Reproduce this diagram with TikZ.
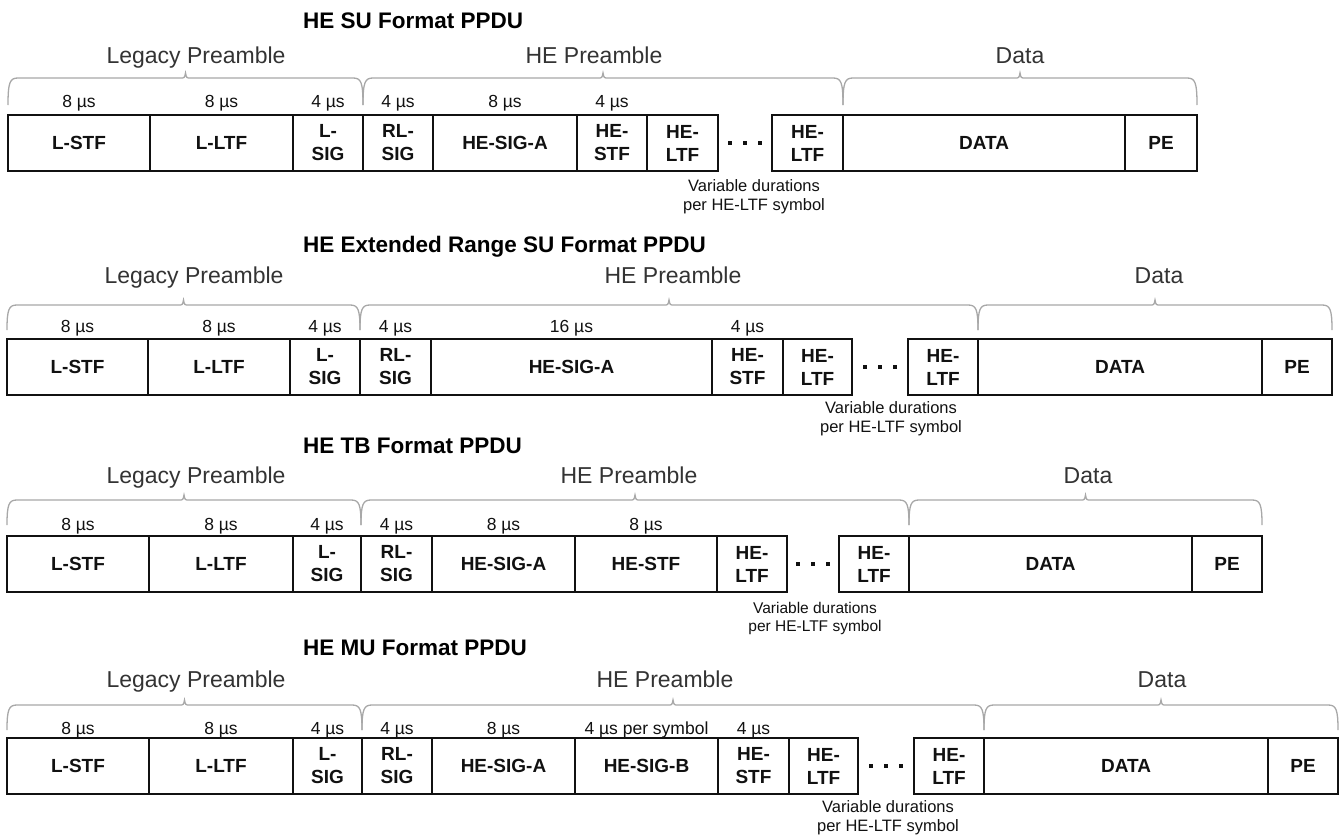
\documentclass[tikz,border=0pt]{standalone}
\usepackage{fontspec}
\setmainfont{Liberation Sans}
\usetikzlibrary{calc}
\definecolor{framecolor}{HTML}{111111}
\definecolor{bracecolor}{HTML}{A8A8A8}
\definecolor{partcolor}{HTML}{333333}

% curly brace over a group of fields: x left, x right, y of the feet, y of the bar
\newcommand{\ppdubrace}[4]{%
  \draw[brace line] (#1,#3) .. controls (#1,#4-4) and (#1+2,#4) .. (#1+10,#4)
    -- ({(#1+#2)/2-5},#4) .. controls ({(#1+#2)/2-1},#4) .. ({(#1+#2)/2},#4+5)
    .. controls ({(#1+#2)/2+1},#4) .. ({(#1+#2)/2+5},#4)
    -- (#2-10,#4) .. controls (#2-2,#4) and (#2,#4-4) .. (#2,#3);}

% the three dots between two HE-LTF fields
\newcommand{\ltfdots}[1]{%
  \foreach \dx in {-15,0,15}
    \fill[framecolor] ($(#1)+(\dx,0)$) ++(-2.3,-2.3) rectangle ++(4.6,4.6);}

\begin{document}
\begin{tikzpicture}[x=1pt, y=1pt,
    field/.style={draw=framecolor, line width=2.2pt, anchor=north west, inner sep=0pt, outer sep=0pt,
      minimum height=56pt, align=center, text=framecolor, font=\fontsize{19}{23}\selectfont\bfseries},
    dur/.style={anchor=base, inner sep=0pt, text=framecolor, font=\fontsize{17.5}{20}\selectfont},
    ppdu title/.style={anchor=base west, inner sep=0pt, text=black, font=\fontsize{22.5}{26}\selectfont\bfseries},
    part label/.style={anchor=base, inner sep=0pt, text=partcolor, font=\fontsize{23}{27}\selectfont},
    var note/.style={inner sep=0pt, align=center, text=framecolor, font=\fontsize{16.5}{19}\selectfont},
    brace line/.style={draw=bracecolor, line width=1.3pt}]
  \useasboundingbox (0,0) rectangle (1341,-838);

  % ---------- HE SU ----------
  \node[ppdu title] (su-title) at (303,-28) {HE SU Format PPDU};
  \foreach \nm/\xa/\xb/\txt in {lstf/8/150/L-STF, lltf/150/293/L-LTF, lsig/293/363/{L-\\SIG},
      rlsig/363/433/{RL-\\SIG}, siga/433/577/HE-SIG-A, stf/577/647/{HE-\\STF},
      ltfa/647/718/{HE-\\LTF}, ltfb/772/843/{HE-\\LTF}, data/843/1125/DATA, pe/1125/1197/PE}{
    \pgfmathsetmacro\cellw{\xb-\xa}
    \pgfmathsetmacro\textw{\xb-\xa-8}
    \node[field, minimum width=\cellw pt, text width=\textw pt] (su-\nm) at (\xa,-115) {\txt};
  }
  \foreach \nm/\t in {lstf/{8 µs}, lltf/{8 µs}, lsig/{4 µs}, rlsig/{4 µs}, siga/{8 µs}, stf/{4 µs}}
    \node[dur] (su-d\nm) at ($(su-\nm.north)+(0,8)$) {\t};
  \ppdubrace{8}{363}{-105}{-78}
  \ppdubrace{363}{843}{-105}{-78}
  \ppdubrace{843}{1197}{-105}{-78}
  \node[part label] (su-legacy) at (196,-63) {Legacy Preamble};
  \node[part label] (su-he) at (594,-63) {HE Preamble};
  \node[part label] (su-data) at (1020,-63) {Data};
  \coordinate (su-dots) at ($(su-ltfa.east)!0.5!(su-ltfb.west)$);
  \ltfdots{su-dots}
  \node[var note] (su-var) at (754,-197) {Variable durations\\per HE-LTF symbol};

  % ---------- HE extended range SU ----------
  \node[ppdu title] (er-title) at (303,-252) {HE Extended Range SU Format PPDU};
  \foreach \nm/\xa/\xb/\txt in {lstf/7/148/L-STF, lltf/148/290/L-LTF, lsig/290/360/{L-\\SIG},
      rlsig/360/431/{RL-\\SIG}, siga/431/712/HE-SIG-A, stf/712/783/{HE-\\STF},
      ltfa/783/852/{HE-\\LTF}, ltfb/908/978/{HE-\\LTF}, data/978/1262/DATA, pe/1262/1332/PE}{
    \pgfmathsetmacro\cellw{\xb-\xa}
    \pgfmathsetmacro\textw{\xb-\xa-8}
    \node[field, minimum width=\cellw pt, text width=\textw pt] (er-\nm) at (\xa,-339) {\txt};
  }
  \foreach \nm/\t in {lstf/{8 µs}, lltf/{8 µs}, lsig/{4 µs}, rlsig/{4 µs}, siga/{16 µs}, stf/{4 µs}}
    \node[dur] (er-d\nm) at ($(er-\nm.north)+(0,7)$) {\t};
  \ppdubrace{7}{360}{-330}{-305}
  \ppdubrace{360}{978}{-330}{-305}
  \ppdubrace{978}{1332}{-330}{-305}
  \node[part label] (er-legacy) at (194,-283) {Legacy Preamble};
  \node[part label] (er-he) at (673,-283) {HE Preamble};
  \node[part label] (er-data) at (1159,-283) {Data};
  \coordinate (er-dots) at ($(er-ltfa.east)!0.5!(er-ltfb.west)$);
  \ltfdots{er-dots}
  \node[var note] (er-var) at (891,-419) {Variable durations\\per HE-LTF symbol};

  % ---------- HE TB ----------
  \node[ppdu title] (tb-title) at (303,-453) {HE TB Format PPDU};
  \foreach \nm/\xa/\xb/\txt in {lstf/7/149/L-STF, lltf/149/293/L-LTF, lsig/293/361/{L-\\SIG},
      rlsig/361/432/{RL-\\SIG}, siga/432/575/HE-SIG-A, stf/575/717/HE-STF,
      ltfa/717/787/{HE-\\LTF}, ltfb/839/909/{HE-\\LTF}, data/909/1192/DATA, pe/1192/1262/PE}{
    \pgfmathsetmacro\cellw{\xb-\xa}
    \pgfmathsetmacro\textw{\xb-\xa-8}
    \node[field, minimum width=\cellw pt, text width=\textw pt] (tb-\nm) at (\xa,-536) {\txt};
  }
  \foreach \nm/\t in {lstf/{8 µs}, lltf/{8 µs}, lsig/{4 µs}, rlsig/{4 µs}, siga/{8 µs}, stf/{8 µs}}
    \node[dur] (tb-d\nm) at ($(tb-\nm.north)+(0,6)$) {\t};
  \ppdubrace{7}{361}{-525}{-500}
  \ppdubrace{361}{909}{-525}{-500}
  \ppdubrace{909}{1262}{-525}{-500}
  \node[part label] (tb-legacy) at (196,-483) {Legacy Preamble};
  \node[part label] (tb-he) at (629,-483) {HE Preamble};
  \node[part label] (tb-data) at (1088,-483) {Data};
  \coordinate (tb-dots) at ($(tb-ltfa.east)!0.5!(tb-ltfb.west)$);
  \ltfdots{tb-dots}
  \node[var note, font=\fontsize{15.5}{18}\selectfont] (tb-var) at (815,-618) {Variable durations\\per HE-LTF symbol};

  % ---------- HE MU ----------
  \node[ppdu title] (mu-title) at (303,-655) {HE MU Format PPDU};
  \foreach \nm/\xa/\xb/\txt in {lstf/7/149/L-STF, lltf/149/293/L-LTF, lsig/293/362/{L-\\SIG},
      rlsig/362/432/{RL-\\SIG}, siga/432/575/HE-SIG-A, sigb/575/718/HE-SIG-B, stf/718/789/{HE-\\STF},
      ltfa/789/858/{HE-\\LTF}, ltfb/914/984/{HE-\\LTF}, data/984/1268/DATA, pe/1268/1338/PE}{
    \pgfmathsetmacro\cellw{\xb-\xa}
    \pgfmathsetmacro\textw{\xb-\xa-8}
    \node[field, minimum width=\cellw pt, text width=\textw pt] (mu-\nm) at (\xa,-738) {\txt};
  }
  \foreach \nm/\t in {lstf/{8 µs}, lltf/{8 µs}, lsig/{4 µs}, rlsig/{4 µs}, siga/{8 µs},
      sigb/{4 µs per symbol}, stf/{4 µs}}
    \node[dur] (mu-d\nm) at ($(mu-\nm.north)+(0,4)$) {\t};
  \ppdubrace{7}{362}{-730}{-705}
  \ppdubrace{362}{984}{-730}{-705}
  \ppdubrace{984}{1338}{-730}{-705}
  \node[part label] (mu-legacy) at (196,-687) {Legacy Preamble};
  \node[part label] (mu-he) at (665,-687) {HE Preamble};
  \node[part label] (mu-data) at (1162,-687) {Data};
  \coordinate (mu-dots) at ($(mu-ltfa.east)!0.5!(mu-ltfb.west)$);
  \ltfdots{mu-dots}
  \node[var note] (mu-var) at (888,-818) {Variable durations\\per HE-LTF symbol};
\end{tikzpicture}
\end{document}
